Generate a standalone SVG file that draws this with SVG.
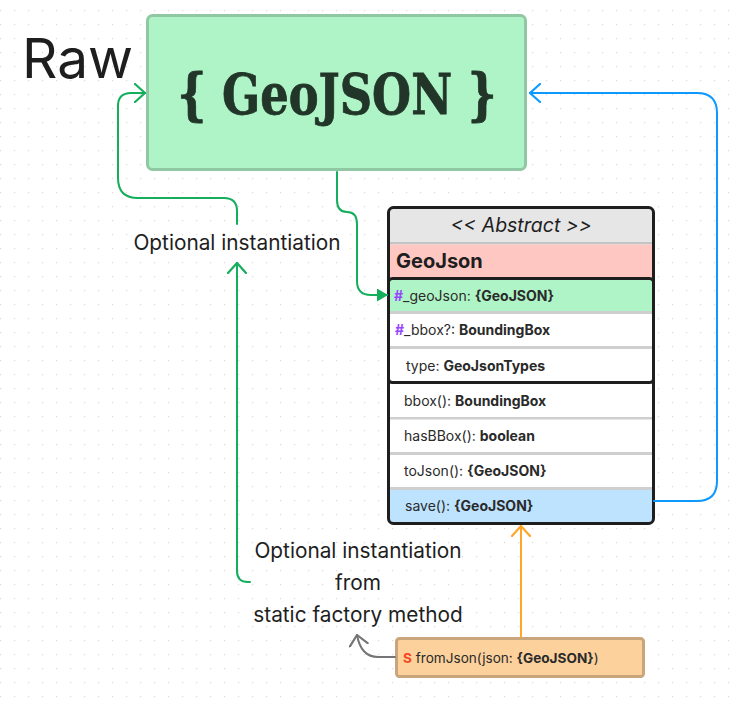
<svg xmlns="http://www.w3.org/2000/svg" width="741" height="706" viewBox="0 0 741 706">
<style>
.t{font-family:Inter,"Noto Sans","Liberation Sans",sans-serif;fill:#1e1e1e}
.row{font-family:Inter,"Noto Sans","Liberation Sans",sans-serif;font-size:14px;fill:#2a2a2a}
.b{font-weight:700}
.hash{fill:#9747ff;font-weight:700}
.lbl{font-family:Inter,"Noto Sans","Liberation Sans",sans-serif;font-size:20.8px;fill:#1e1e1e;text-anchor:middle}
.sep{fill:#cfcfcf}
.conn{fill:none;stroke-width:2;stroke-linecap:round;stroke-linejoin:round}
</style>
<defs>
<pattern id="dots" x="0" y="10" width="14" height="14" patternUnits="userSpaceOnUse">
<rect x="0" y="0" width="1.2" height="1.2" fill="#dadada"/>
</pattern>
<marker id="chG" markerUnits="userSpaceOnUse" viewBox="0 0 12 20" refX="11" refY="10" markerWidth="12" markerHeight="20" orient="auto"><path d="M1,1 L11,10 L1,19" fill="none" stroke="#14ae5c" stroke-width="2.2" stroke-linecap="round" stroke-linejoin="round"/></marker>
<marker id="chB" markerUnits="userSpaceOnUse" viewBox="0 0 12 20" refX="11" refY="10" markerWidth="12" markerHeight="20" orient="auto"><path d="M1,1 L11,10 L1,19" fill="none" stroke="#0d99ff" stroke-width="2.2" stroke-linecap="round" stroke-linejoin="round"/></marker>
<marker id="chO" markerUnits="userSpaceOnUse" viewBox="0 0 12 20" refX="11" refY="10" markerWidth="12" markerHeight="20" orient="auto"><path d="M1,1 L11,10 L1,19" fill="none" stroke="#ffa629" stroke-width="2.2" stroke-linecap="round" stroke-linejoin="round"/></marker>
<marker id="chK" markerUnits="userSpaceOnUse" viewBox="0 0 12 20" refX="11" refY="10" markerWidth="12" markerHeight="20" orient="auto"><path d="M1,1 L11,10 L1,19" fill="none" stroke="#757575" stroke-width="2.2" stroke-linecap="round" stroke-linejoin="round"/></marker>
<marker id="triG" markerUnits="userSpaceOnUse" viewBox="0 0 11 13" refX="10" refY="6.5" markerWidth="11" markerHeight="13" orient="auto"><path d="M0,0 L11,6.5 L0,13 Z" fill="#14ae5c"/></marker>
<clipPath id="cls"><rect x="388.5" y="207.5" width="265" height="316" rx="5"/></clipPath>
</defs>
<rect width="741" height="706" fill="#ffffff"/>
<rect width="741" height="706" fill="url(#dots)"/>

<text class="t" x="22" y="78" font-size="55">Raw</text>

<g id="raw-geojson">
<rect x="147.5" y="15.5" width="378" height="154" rx="5" fill="#aff4c6" stroke="#8fc8a2" stroke-width="3"/>
<text x="337" y="114" font-family="'DejaVu Serif','Liberation Serif',serif" font-weight="700" font-size="56" fill="#213528" stroke="#213528" stroke-width="0.8" text-anchor="middle" textLength="319" lengthAdjust="spacingAndGlyphs">{ GeoJSON }</text>
</g>

<g id="geojson-class">
<g clip-path="url(#cls)">
<rect x="388" y="207" width="266" height="317" fill="#ffffff"/>
<rect x="388" y="207" width="266" height="35" fill="#e6e6e6"/>
<rect x="388" y="242" width="266" height="2.5" fill="#c4c4c4"/>
<rect x="388" y="244.5" width="266" height="34" fill="#ffc7c2"/>
<rect x="388" y="490" width="266" height="34" fill="#bde3ff"/>
</g>
<rect x="389" y="279" width="264" height="32" fill="#aff4c6"/>
<rect x="389" y="311" width="264" height="3" class="sep"/>
<rect x="389" y="346" width="264" height="3" class="sep"/>
<rect x="389" y="417" width="264" height="2.5" class="sep"/>
<rect x="389" y="452" width="264" height="3" class="sep"/>
<rect x="389" y="487" width="264" height="3" class="sep"/>
<rect x="388.5" y="207.5" width="265" height="316" rx="5" fill="none" stroke="#1e1e1e" stroke-width="3"/>
<rect x="388.5" y="278.5" width="265" height="104" rx="4" fill="none" stroke="#1e1e1e" stroke-width="3"/>
<text class="t" x="521" y="232" font-size="19.5" font-style="italic" text-anchor="middle">&lt;&lt; Abstract &gt;&gt;</text>
<text class="t b" x="396" y="268" font-size="20">GeoJson</text>
<text class="row" x="394" y="301"><tspan class="hash">#</tspan>_geoJson: <tspan class="b">{GeoJSON}</tspan></text>
<text class="row" x="395" y="335"><tspan class="hash">#</tspan>_bbox?: <tspan class="b">BoundingBox</tspan></text>
<text class="row" x="406" y="371">type: <tspan class="b">GeoJsonTypes</tspan></text>
<text class="row" x="404" y="406">bbox(): <tspan class="b">BoundingBox</tspan></text>
<text class="row" x="404" y="441">hasBBox(): <tspan class="b">boolean</tspan></text>
<text class="row" x="404" y="476">toJson(): <tspan class="b">{GeoJSON}</tspan></text>
<text class="row" x="405" y="511">save(): <tspan class="b">{GeoJSON}</tspan></text>
</g>

<g id="fromjson">
<rect x="396.5" y="638.5" width="247" height="38" rx="3" fill="#fcd19c" stroke="#c9a57c" stroke-width="3"/>
<text class="row" x="403" y="663" style="font-size:13.6px"><tspan fill="#f24822" font-weight="700">S</tspan> fromJson(json: <tspan class="b">{GeoJSON}</tspan>)</text>
</g>

<g id="label-optional">
<text class="lbl" x="237" y="250">Optional instantiation</text>
</g>
<g id="label-factory">
<text class="lbl" x="358" y="558">Optional instantiation</text>
<text class="lbl" x="358" y="590">from</text>
<text class="lbl" x="358" y="622">static factory method</text>
</g>

<g id="connectors">
<path class="conn" stroke="#14ae5c" d="M337,172 V200 Q337,212 347,212 Q357,212 357,224 V281 Q357,295 371,295 H387" marker-end="url(#triG)"/>
<path class="conn" stroke="#14ae5c" d="M237,224 V211 Q237,198 224,198 H138 Q118,198 118,178 V106 Q118,93 131,93 H145" marker-end="url(#chG)"/>
<path class="conn" stroke="#14ae5c" d="M250,582 H248 Q237,582 237,571 V263" marker-end="url(#chG)"/>
<path class="conn" stroke="#0d99ff" d="M654,501 H697 Q717,501 717,481 V113 Q717,93 697,93 H530" marker-end="url(#chB)"/>
<path class="conn" stroke="#ffa629" d="M521,637 V526" marker-end="url(#chO)"/>
<path class="conn" stroke="#757575" d="M395,657 H378 Q361,657 357,635" marker-end="url(#chK)"/>
</g>
</svg>
